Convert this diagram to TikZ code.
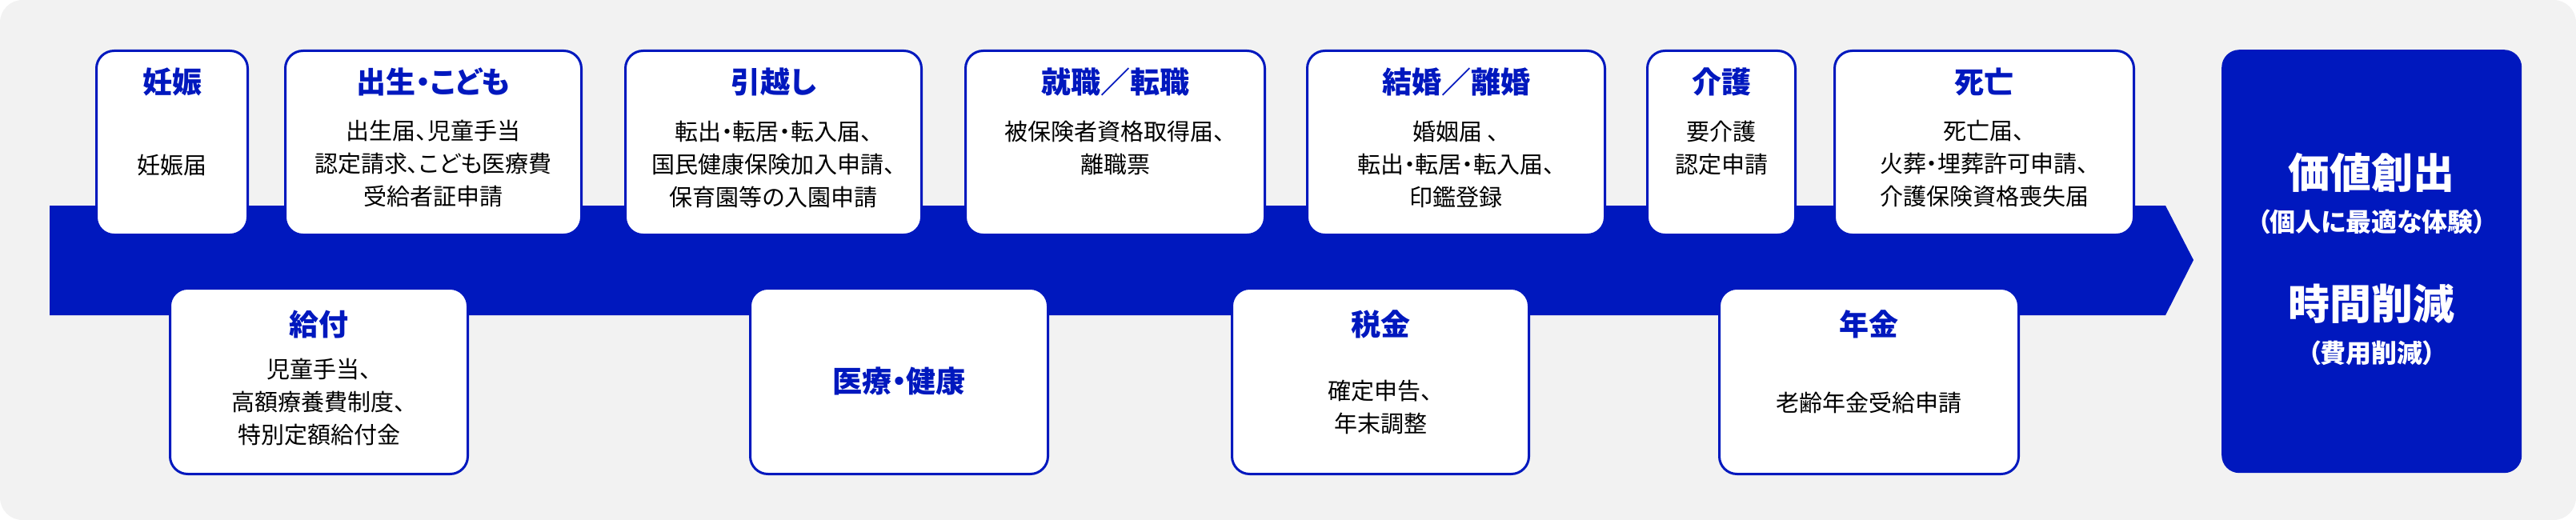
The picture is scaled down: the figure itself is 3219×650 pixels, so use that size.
\documentclass[tikz,border=0pt]{standalone}
\usepackage{fontspec}
\setmainfont[RawFeature=+palt]{Noto Sans CJK JP}
\usetikzlibrary{calc}
\definecolor{bblue}{RGB}{0,24,190}
\definecolor{bg}{RGB}{242,242,242}
\tikzset{
 card/.style={draw=bblue,line width=3pt,fill=white,rounded corners=22pt,anchor=north west,inner sep=0pt},
 ttl/.style={text=bblue,font=\fontsize{37}{44}\selectfont\bfseries,anchor=center},
 body/.style={text=black,font=\fontsize{29}{41}\selectfont,align=center,anchor=center},
}
\begin{document}
\begin{tikzpicture}[x=1pt,y=-1pt]
\useasboundingbox (0,0) rectangle (3219,650);
\fill[bg,rounded corners=28pt] (0,0) rectangle (3219,650);
\fill[bblue] (62,257) -- (2706,257) -- (2741,325) -- (2706,394) -- (62,394) -- cycle;
% top cards
\node[card,minimum width=189,minimum height=230] (p) at (119,62) {};
\node[ttl] (pt) at (p.north) [yshift=-40] {妊娠};
\node[body] (pb) at (p.north) [yshift=-145] {妊娠届};
\node[card,minimum width=370,minimum height=230] (s) at (355,62) {};
\node[ttl] (st) at (s.north) [yshift=-40] {出生・こども};
\node[body] (sb) at (s.north) [yshift=-143] {出生届、児童手当\\認定請求、こども医療費\\受給者証申請};
\node[card,minimum width=370,minimum height=230] (h) at (780,62) {};
\node[ttl] (ht) at (h.north) [yshift=-40] {引越し};
\node[body] (hb) at (h.north) [yshift=-143] {転出・転居・転入届、\\国民健康保険加入申請、\\保育園等の入園申請};
\node[card,minimum width=374,minimum height=230] (j) at (1205,62) {};
\node[ttl] (jt) at (j.north) [yshift=-40] {就職／転職};
\node[body] (jb) at (j.north) [yshift=-123] {被保険者資格取得届、\\離職票};
\node[card,minimum width=372,minimum height=230] (k) at (1632,62) {};
\node[ttl] (kt) at (k.north) [yshift=-40] {結婚／離婚};
\node[body] (kb) at (k.north) [yshift=-143] {婚姻届 、\\転出・転居・転入届、\\印鑑登録};
\node[card,minimum width=185,minimum height=230] (c) at (2057,62) {};
\node[ttl] (ct) at (c.north) [yshift=-40] {介護};
\node[body] (cb) at (c.north) [yshift=-123] {要介護\\認定申請};
\node[card,minimum width=374,minimum height=230] (d) at (2291,62) {};
\node[ttl] (dt) at (d.north) [yshift=-40] {死亡};
\node[body] (db) at (d.north) [yshift=-143] {死亡届、\\火葬・埋葬許可申請、\\介護保険資格喪失届};
% bottom cards
\node[card,minimum width=372,minimum height=232] (q) at (211,359) {};
\node[ttl] (qt) at (q.north) [yshift=-46] {給付};
\node[body] (qb) at (q.north) [yshift=-144] {児童手当、\\高額療養費制度、\\特別定額給付金};
\node[card,minimum width=372,minimum height=232] (m) at (936,359) {};
\node[ttl] (mt) at (m.center) {医療・健康};
\node[card,minimum width=371,minimum height=232] (z) at (1538,359) {};
\node[ttl] (zt) at (z.north) [yshift=-46] {税金};
\node[body] (zb) at (z.north) [yshift=-150] {確定申告、\\年末調整};
\node[card,minimum width=374,minimum height=232] (n) at (2147,359) {};
\node[ttl] (nt) at (n.north) [yshift=-46] {年金};
\node[body] (nb) at (n.north) [yshift=-144] {老齢年金受給申請};
% right
\node[fill=bblue,rounded corners=22pt,anchor=north west,minimum width=375,minimum height=529,inner sep=0pt] (r) at (2776,62) {};
\node[text=white,font=\fontsize{52}{60}\selectfont\bfseries] (r1) at ($(r.north)+(0,154)$) {価値創出};
\node[text=white,font=\fontsize{32}{38}\selectfont\bfseries] (r2) at ($(r.north)+(0,215)$) {（個人に最適な体験）};
\node[text=white,font=\fontsize{52}{60}\selectfont\bfseries] (r3) at ($(r.north)+(0,318)$) {時間削減};
\node[text=white,font=\fontsize{32}{38}\selectfont\bfseries] (r4) at ($(r.north)+(0,379)$) {（費用削減）};
\end{tikzpicture}
\end{document}
